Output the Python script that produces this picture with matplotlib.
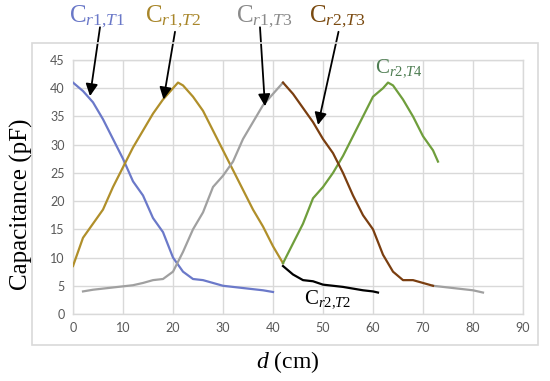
import matplotlib
matplotlib.use("Agg")
import matplotlib.pyplot as plt
from matplotlib.patches import Rectangle

# capacitance curves (x in cm, y in pF)
x_r1t1 = [0, 2, 4, 6, 8, 10, 12, 14, 16, 18, 20, 22, 24, 26, 28, 30, 32, 34, 36, 38, 40]
y_r1t1 = [41, 39.5, 37.5, 34.5, 31, 27.5, 23.5, 21, 17, 14.5, 10, 7.5, 6.2, 6, 5.5, 5, 4.8, 4.6, 4.4, 4.2, 3.9]

x_r1t2 = [0, 2, 4, 6, 8, 10, 12, 14, 16, 18, 20, 21, 22, 24, 26, 28, 30, 32, 34, 36, 38, 40, 42]
y_r1t2 = [8.5, 13.5, 16, 18.5, 22.5, 26, 29.5, 32.5, 35.5, 38, 40, 41, 40.5, 38.5, 36, 32.5, 29, 25.5, 22, 18.5, 15.5, 12, 9]

x_r1t3 = [2, 4, 6, 8, 10, 12, 14, 16, 18, 20, 22, 24, 26, 28, 30, 32, 34, 36, 38, 40, 42]
y_r1t3 = [4, 4.3, 4.5, 4.7, 4.9, 5.1, 5.5, 6, 6.2, 7.5, 11, 15, 18, 22.5, 24.5, 27, 31, 34, 37, 39, 41]

x_r2t3 = [42, 44, 46, 48, 50, 52, 54, 56, 58, 60, 62, 64, 66, 68, 70, 72]
y_r2t3 = [41, 39, 36.5, 34, 31, 28.5, 25, 21, 17.5, 15, 10.5, 7.5, 6, 6, 5.5, 5]

x_tail = [72, 74, 76, 78, 80, 82]
y_tail = [5, 4.8, 4.6, 4.4, 4.2, 3.8]

x_r2t2 = [42, 44, 46, 48, 50, 52, 54, 56, 58, 60, 61]
y_r2t2 = [8.5, 7, 6, 5.8, 5.2, 5, 4.8, 4.5, 4.2, 4, 3.8]

x_r2t4 = [42, 44, 46, 48, 50, 52, 54, 56, 58, 60, 62, 63, 64, 66, 68, 70, 72, 73]
y_r2t4 = [9, 12.5, 16, 20.5, 22.5, 25, 28, 31.5, 35, 38.5, 40, 41, 40.5, 38, 35, 31.5, 29, 27]

x_ticks = [0, 10, 20, 30, 40, 50, 60, 70, 80, 90]
y_ticks = [0, 5, 10, 15, 20, 25, 30, 35, 40, 45]

plt.rcParams['mathtext.fontset'] = 'custom'
plt.rcParams['mathtext.rm'] = 'Liberation Serif'
plt.rcParams['mathtext.it'] = 'Liberation Serif:italic'

fig = plt.figure(figsize=(5.5, 3.81), dpi=100)
ax = fig.add_axes([73 / 550, 1 - 314 / 381, 450 / 550, 254 / 381])

# light frame round the whole chart
fig.patches.append(Rectangle((32 / 550, 1 - 345 / 381), 506 / 550, 302 / 381,
                             transform=fig.transFigure, fill=False,
                             edgecolor='#d9d9d9', linewidth=1.2))

lw = 1.6
ax.plot(x_r1t1, y_r1t1, color='#6b79c9', lw=lw, zorder=3)
ax.plot(x_r1t2, y_r1t2, color='#b08f2a', lw=lw, zorder=3)
ax.plot(x_r1t3, y_r1t3, color='#a0a0a0', lw=lw, zorder=3)
ax.plot(x_tail, y_tail, color='#a0a0a0', lw=lw, zorder=3)
ax.plot(x_r2t2, y_r2t2, color='#000000', lw=lw, zorder=3)
ax.plot(x_r2t4, y_r2t4, color='#6f9e3c', lw=lw, zorder=3)
ax.plot(x_r2t3, y_r2t3, color='#7a3e10', lw=lw, zorder=4)

ax.set_xlim(0, 90)
ax.set_ylim(0, 45)
ax.set_xticks(x_ticks)
ax.set_yticks(y_ticks)
ax.grid(True, color='#d9d9d9', linewidth=1.0, zorder=0)
ax.set_axisbelow(True)
for s in ax.spines.values():
    s.set_color('#d9d9d9')
    s.set_linewidth(1.0)
ax.tick_params(length=0, labelsize=9, labelcolor='#595959', pad=6)
for lab in ax.get_xticklabels() + ax.get_yticklabels():
    lab.set_family('Lato')

# axis titles
fig.text(21 / 550, 1 - 204 / 381, 'Capacitance (pF)', rotation=90, ha='center', va='center',
         fontsize=18, family='Liberation Serif')
fig.text(288 / 550, 1 - 362 / 381, r'$\mathit{d}$ (cm)', ha='center', va='center',
         fontsize=17, family='Liberation Serif')

# curve names
labels = [
    (r'$\mathrm{C}_{\mathit{r1{,}T1}}$', 4.8, 52.6, '#6a78c8', 18),
    (r'$\mathrm{C}_{\mathit{r1{,}T2}}$', 20.0, 52.6, '#a8862a', 18),
    (r'$\mathrm{C}_{\mathit{r1{,}T3}}$', 38.2, 52.6, '#8a8a8a', 18),
    (r'$\mathrm{C}_{\mathit{r2{,}T3}}$', 52.8, 52.6, '#7a4a10', 18),
    (r'$\mathrm{C}_{\mathit{r2{,}T4}}$', 65.2, 43.6, '#4e7d52', 15),
    (r'$\mathrm{C}_{\mathit{r2{,}T2}}$', 51.0, 2.7, '#000000', 15),
]
for txt, lx, ly, col, fs in labels:
    ax.text(lx, ly, txt, color=col, fontsize=fs, ha='center', va='center', clip_on=False)

# arrows from names to curves
arrows = [((5.4, 50.8), (3.4, 38.6)),
          ((20.4, 50.0), (18.1, 38.0)),
          ((37.4, 50.8), (38.4, 36.8)),
          ((53.1, 50.0), (49.0, 33.5))]
for (tx, ty), (hx, hy) in arrows:
    ax.annotate('', xy=(hx, hy), xytext=(tx, ty), annotation_clip=False,
                arrowprops=dict(arrowstyle='-|>', color='black', lw=1.3,
                                mutation_scale=18, shrinkA=0, shrinkB=0), zorder=5)

fig.savefig('out.png', dpi=100)
